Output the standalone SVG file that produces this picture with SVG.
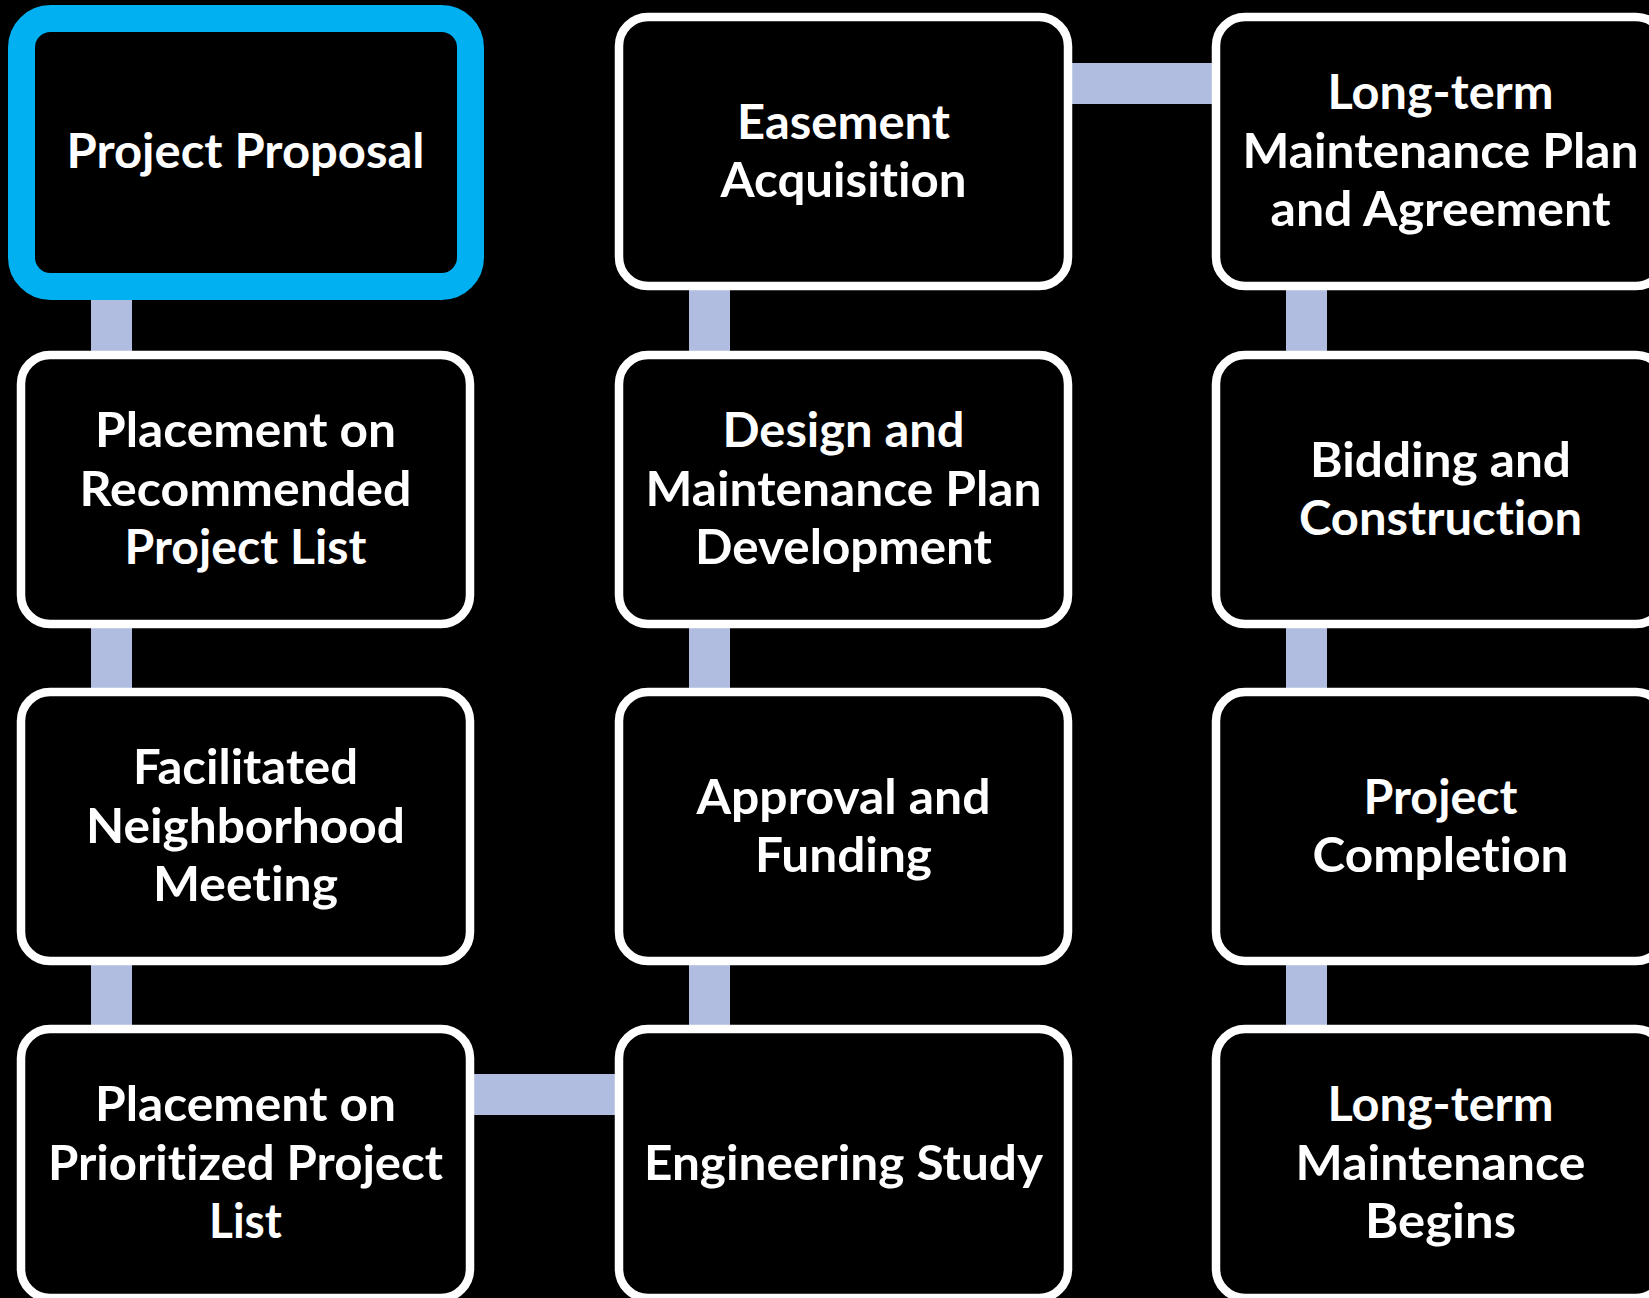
<svg xmlns="http://www.w3.org/2000/svg" width="1649" height="1298" viewBox="0 0 1649 1298">
<style>
.box{fill:#000000;stroke:#FFFFFF;stroke-width:8.5}
.hl{fill:#000000;stroke:#00B0F0;stroke-width:27}
.con{fill:#B0BDE0}
text{font-family:Lato,"Open Sans","Liberation Sans",sans-serif;font-weight:bold;font-size:47px;fill:#FFFFFF;text-anchor:middle;font-variant-ligatures:none;font-feature-settings:"liga" 0}
</style>
<rect x="0" y="0" width="1649" height="1298" fill="#000000"/>
<g id="connectors">
<rect class="con" x="91" y="286" width="41" height="69"/>
<rect class="con" x="91" y="624" width="41" height="68"/>
<rect class="con" x="91" y="961" width="41" height="68"/>
<rect class="con" x="689" y="286" width="41" height="69"/>
<rect class="con" x="689" y="624" width="41" height="68"/>
<rect class="con" x="689" y="961" width="41" height="68"/>
<rect class="con" x="1286" y="286" width="41" height="69"/>
<rect class="con" x="1286" y="624" width="41" height="68"/>
<rect class="con" x="1286" y="961" width="41" height="68"/>
<rect class="con" x="470" y="1074" width="149" height="41"/>
<rect class="con" x="1068" y="63" width="148" height="41"/>
</g>
<g id="n1">
<rect class="hl" x="21.5" y="18.5" width="449" height="268" rx="29"/>
<text x="245.5" y="167.8" textLength="358" lengthAdjust="spacingAndGlyphs">Project Proposal</text>
</g>
<g id="n2">
<rect class="box" x="21" y="355" width="449" height="269" rx="29"/>
<text x="245.5" y="447.3" textLength="301" lengthAdjust="spacingAndGlyphs">Placement on</text>
<text x="245.5" y="505.8" textLength="332" lengthAdjust="spacingAndGlyphs">Recommended</text>
<text x="245.5" y="564.3" textLength="242" lengthAdjust="spacingAndGlyphs">Project List</text>
</g>
<g id="n3">
<rect class="box" x="21" y="692" width="449" height="269" rx="29"/>
<text x="245.5" y="784.3" textLength="225" lengthAdjust="spacingAndGlyphs">Facilitated</text>
<text x="245.5" y="842.8" textLength="319" lengthAdjust="spacingAndGlyphs">Neighborhood</text>
<text x="245.5" y="901.3" textLength="185" lengthAdjust="spacingAndGlyphs">Meeting</text>
</g>
<g id="n4">
<rect class="box" x="21" y="1029" width="449" height="269" rx="29"/>
<text x="245.5" y="1121.3" textLength="301" lengthAdjust="spacingAndGlyphs">Placement on</text>
<text x="245.5" y="1179.8" textLength="395" lengthAdjust="spacingAndGlyphs">Prioritized Project</text>
<text x="245.5" y="1238.3" textLength="73" lengthAdjust="spacingAndGlyphs">List</text>
</g>
<g id="n5">
<rect class="box" x="619" y="1029" width="449" height="269" rx="29"/>
<text x="843.5" y="1179.8" textLength="399" lengthAdjust="spacingAndGlyphs">Engineering Study</text>
</g>
<g id="n6">
<rect class="box" x="619" y="692" width="449" height="269" rx="29"/>
<text x="843.5" y="813.6" textLength="294" lengthAdjust="spacingAndGlyphs">Approval and</text>
<text x="843.5" y="872.1" textLength="177" lengthAdjust="spacingAndGlyphs">Funding</text>
</g>
<g id="n7">
<rect class="box" x="619" y="355" width="449" height="269" rx="29"/>
<text x="843.5" y="447.3" textLength="242" lengthAdjust="spacingAndGlyphs">Design and</text>
<text x="843.5" y="505.8" textLength="396" lengthAdjust="spacingAndGlyphs">Maintenance Plan</text>
<text x="843.5" y="564.3" textLength="297" lengthAdjust="spacingAndGlyphs">Development</text>
</g>
<g id="n8">
<rect class="box" x="619" y="17" width="449" height="269" rx="29"/>
<text x="843.5" y="138.6" textLength="213" lengthAdjust="spacingAndGlyphs">Easement</text>
<text x="843.5" y="197.1" textLength="246" lengthAdjust="spacingAndGlyphs">Acquisition</text>
</g>
<g id="n9">
<rect class="box" x="1216" y="17" width="449" height="269" rx="29"/>
<text x="1440.5" y="109.3" textLength="226" lengthAdjust="spacingAndGlyphs">Long-term</text>
<text x="1440.5" y="167.8" textLength="396" lengthAdjust="spacingAndGlyphs">Maintenance Plan</text>
<text x="1440.5" y="226.3" textLength="340" lengthAdjust="spacingAndGlyphs">and Agreement</text>
</g>
<g id="n10">
<rect class="box" x="1216" y="355" width="449" height="269" rx="29"/>
<text x="1440.5" y="476.6" textLength="261" lengthAdjust="spacingAndGlyphs">Bidding and</text>
<text x="1440.5" y="535.1" textLength="283" lengthAdjust="spacingAndGlyphs">Construction</text>
</g>
<g id="n11">
<rect class="box" x="1216" y="692" width="449" height="269" rx="29"/>
<text x="1440.5" y="813.6" textLength="154" lengthAdjust="spacingAndGlyphs">Project</text>
<text x="1440.5" y="872.1" textLength="256" lengthAdjust="spacingAndGlyphs">Completion</text>
</g>
<g id="n12">
<rect class="box" x="1216" y="1029" width="449" height="269" rx="29"/>
<text x="1440.5" y="1121.3" textLength="226" lengthAdjust="spacingAndGlyphs">Long-term</text>
<text x="1440.5" y="1179.8" textLength="290" lengthAdjust="spacingAndGlyphs">Maintenance</text>
<text x="1440.5" y="1238.3" textLength="151" lengthAdjust="spacingAndGlyphs">Begins</text>
</g>
</svg>
